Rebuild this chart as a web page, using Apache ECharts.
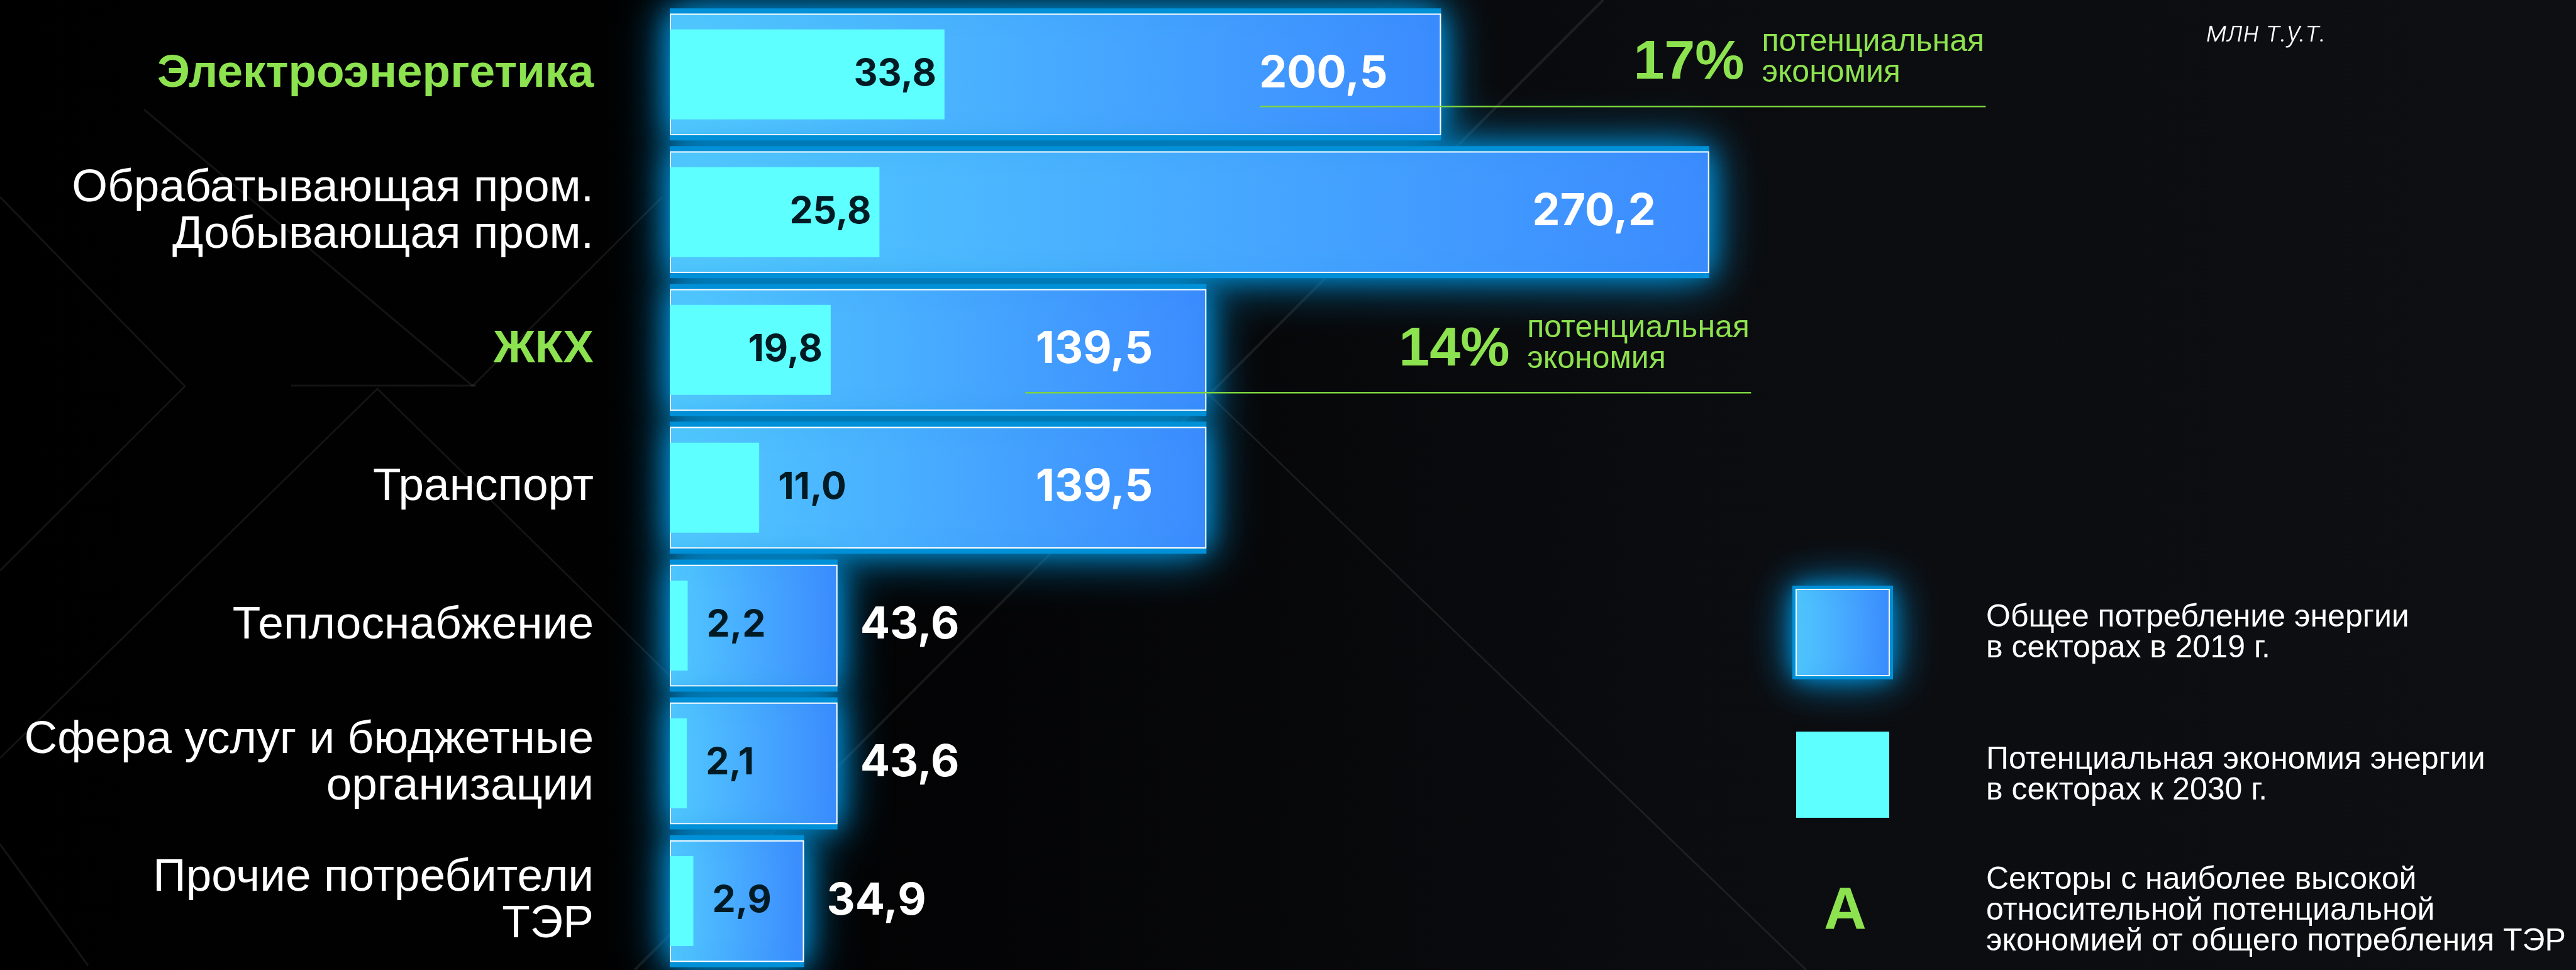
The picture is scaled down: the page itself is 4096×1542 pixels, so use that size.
<!DOCTYPE html>
<html>
<head>
<meta charset="utf-8">
<title>Потенциальная экономия энергии по секторам</title>
<script src="https://cdn.jsdelivr.net/npm/echarts@6/dist/echarts.min.js"></script>
<style>
    html, body {
        margin: 0;
        padding: 0;
        width: 4096px;
        height: 1542px;
        overflow: hidden;
        background: linear-gradient(90deg, #000000 0%, #020203 30%, #0b0c0f 65%, #0e0f12 100%);
    }
    #chart {
        width: 4096px;
        height: 1542px;
    }
</style>
</head>
<body>
<div id="chart"></div>
<script>
// данные, млн т.у.т.
const sectors = [
    'Электроэнергетика',
    'Обрабатывающая пром.\nДобывающая пром.',
    'ЖКХ',
    'Транспорт',
    'Теплоснабжение',
    'Сфера услуг и бюджетные\nорганизации',
    'Прочие потребители\nТЭР'
];
const consumption2019 = [200.5, 270.2, 139.5, 139.5, 43.6, 43.6, 34.9];
const savings2030 = [33.8, 25.8, 19.8, 11.0, 2.2, 2.1, 2.9];
const savingsShare = ['17%', null, '14%', null, null, null, null];
const highlighted = ['Электроэнергетика', 'ЖКХ'];
const shareCaption = 'потенциальная\nэкономия';
const unitLabel = 'млн т.у.т.';
const legendLabels = [
    'Общее потребление энергии\nв секторах в 2019 г.',
    'Потенциальная экономия энергии\nв секторах к 2030 г.',
    'Секторы с наиболее высокой\nотносительной потенциальной\nэкономией от общего потребления ТЭР'
];
const legendMark = 'А';

const GREEN = '#8de24f';
const CYAN = '#5effff';
const GLOW = '#0090d8';
const TEXT_FONT = '"Liberation Sans", Arial, sans-serif';
const NUM_FONT = 'Inter, "Liberation Sans", sans-serif';

const fmt = v => v.toFixed(1).replace('.', ',');

const blueGradient = () => new echarts.graphic.LinearGradient(0, 0, 1, 0, [
    {offset: 0, color: '#52c9ff'},
    {offset: 1, color: '#3c8bff'}
]);

// смещение зелёной линии под строкой (по строкам)
const shareLineDrop = {0: 51, 2: 68};

const renderShare = (params, api) => {
    const row = api.value(1);
    const end = api.coord([api.value(0), row]);
    const ly = end[1] + (shareLineDrop[row] || 60);
    const xe = end[0] + 866;
    return {
        type: 'group',
        children: [
            {
                type: 'line',
                shape: {x1: end[0] - 288, y1: ly, x2: xe, y2: ly},
                style: {stroke: '#7cd33e', lineWidth: 2.5}
            },
            {
                type: 'text',
                x: xe - 560,
                y: ly - 68,
                style: {
                    text: savingsShare[row],
                    fill: GREEN,
                    font: 'bold 88px ' + TEXT_FONT,
                    align: 'left', verticalAlign: 'middle',
                    textAlign: 'left', textVerticalAlign: 'middle'
                }
            },
            {
                type: 'text',
                x: xe - 356,
                y: ly - 78,
                style: {
                    text: shareCaption,
                    fill: GREEN,
                    font: '50px ' + TEXT_FONT,
                    lineHeight: 49,
                    align: 'left', verticalAlign: 'middle',
                    textAlign: 'left', textVerticalAlign: 'middle'
                }
            }
        ]
    };
};

const legendText = (x, y, text) => ({
    type: 'text', x: x, y: y,
    style: {text: text, fill: '#ffffff', font: '50px ' + TEXT_FONT, lineHeight: 49, verticalAlign: 'middle', textVerticalAlign: 'middle'}
});

const legendGraphics = () => [
    {
        type: 'rect',
        shape: {x: 2850, y: 931, width: 160, height: 149},
        style: {fill: GLOW, shadowBlur: 70, shadowColor: GLOW}
    },
    {
        type: 'rect',
        shape: {x: 2856, y: 937, width: 148, height: 137},
        style: {fill: blueGradient(), stroke: '#ffffff', lineWidth: 2, shadowBlur: 30, shadowColor: GLOW}
    },
    {
        type: 'rect',
        shape: {x: 2856, y: 1163, width: 148, height: 137},
        style: {fill: CYAN}
    },
    {
        type: 'text', x: 2934, y: 1451,
        style: {text: legendMark, fill: GREEN, font: 'bold 94px ' + TEXT_FONT, align: 'center', verticalAlign: 'middle', textAlign: 'center', textVerticalAlign: 'middle'}
    },
    legendText(3158, 1007, legendLabels[0]),
    legendText(3158, 1233, legendLabels[1]),
    legendText(3158, 1448, legendLabels[2]),
    {
        type: 'text', x: 3508, y: 54,
        style: {text: unitLabel, fill: '#ffffff', font: 'italic 300 47px Roboto, ' + TEXT_FONT, verticalAlign: 'middle', textVerticalAlign: 'middle'}
    }
];

// фоновые линии
const bgLines = () => {
    const paths = [
        [[0, 313], [294, 614], [0, 907]],
        [[463, 613], [757, 613]],
        [[0, 1205], [600, 618], [1066, 1075]],
        [[229, 174], [751, 613]],
        [[1053, 313], [751, 614]],
        [[0, 1342], [140, 1535]],
        [[1921, 626], [2872, 1542]]
    ];
    const lines = paths.map(p => ({
        type: 'polyline',
        silent: true,
        z: -10,
        shape: {points: p},
        style: {stroke: 'rgba(255,255,255,0.08)', lineWidth: 3, fill: null}
    }));
    lines.push({
        type: 'line',
        silent: true,
        z: -10,
        shape: {x1: 2549, y1: 0, x2: 1009, y2: 1542},
        style: {
            stroke: new echarts.graphic.LinearGradient(0, 0, 0, 1, [
                {offset: 0, color: 'rgba(255,255,255,0.35)'},
                {offset: 0.2, color: 'rgba(255,255,255,0.12)'},
                {offset: 1, color: 'rgba(255,255,255,0.08)'}
            ], true),
            lineWidth: 4
        }
    });
    return lines;
};

const renderChart = (chart) => {
    const categoryData = sectors.map(s => highlighted.indexOf(s) >= 0
        ? {value: s, textStyle: {color: GREEN, fontWeight: 'bold'}}
        : s);

    const numLabel = {
        show: true,
        formatter: p => fmt(p.value),
        fontFamily: NUM_FONT,
        fontWeight: 'bold'
    };

    const option = {
        backgroundColor: 'transparent',
        animation: false,
        grid: {left: 1065, top: 8.7, width: 1835, height: 1553},
        xAxis: [
            {type: 'value', min: 0, max: 300, show: false},
            {type: 'value', min: 0, max: 142, show: false}
        ],
        yAxis: [
            {
                type: 'category',
                inverse: true,
                data: categoryData,
                axisLine: {show: false},
                axisTick: {show: false},
                splitLine: {show: false},
                axisLabel: {
                    margin: 121,
                    color: '#ffffff',
                    fontSize: 73,
                    lineHeight: 74,
                    fontFamily: TEXT_FONT,
                    align: 'right'
                }
            },
            {type: 'category', inverse: true, data: sectors, show: false},
            {type: 'category', inverse: true, data: sectors, show: false}
        ],
        series: [
            {
                // свечение под столбцами
                name: 'glow',
                type: 'bar',
                xAxisIndex: 0,
                yAxisIndex: 2,
                barWidth: 210,
                z: 1,
                silent: true,
                itemStyle: {color: GLOW, shadowBlur: 80, shadowColor: GLOW},
                data: consumption2019
            },
            {
                name: 'Общее потребление энергии в секторах в 2019 г.',
                type: 'bar',
                xAxisIndex: 0,
                yAxisIndex: 0,
                barWidth: 193.5,
                z: 2,
                itemStyle: {
                    color: blueGradient(),
                    borderColor: '#ffffff',
                    borderWidth: 2,
                    shadowBlur: 40,
                    shadowColor: GLOW
                },
                label: Object.assign({}, numLabel, {color: '#ffffff', fontSize: 70}),
                data: consumption2019.map(v => ({
                    value: v,
                    label: v > 100 ? {position: 'insideRight', distance: 85} : {position: 'right', distance: 36}
                }))
            },
            {
                name: 'Потенциальная экономия энергии в секторах к 2030 г.',
                type: 'bar',
                xAxisIndex: 1,
                yAxisIndex: 1,
                barWidth: 143,
                z: 3,
                itemStyle: {color: CYAN},
                label: Object.assign({}, numLabel, {color: '#001b24', fontSize: 59}),
                data: savings2030.map(v => ({
                    value: v,
                    label: v > 15 ? {position: 'insideRight', distance: 13} : {position: 'right', distance: 30}
                }))
            },
            {
                name: 'Доля экономии',
                type: 'custom',
                xAxisIndex: 0,
                yAxisIndex: 0,
                z: 4,
                renderItem: renderShare,
                data: savingsShare
                    .map((s, i) => s ? [consumption2019[i], i] : null)
                    .filter(d => d)
            }
        ],
        graphic: bgLines().concat(legendGraphics())
    };
    chart.setOption(option, true);
};

const chart = echarts.init(document.getElementById('chart'));
renderChart(chart);
</script>
</body>
</html>
